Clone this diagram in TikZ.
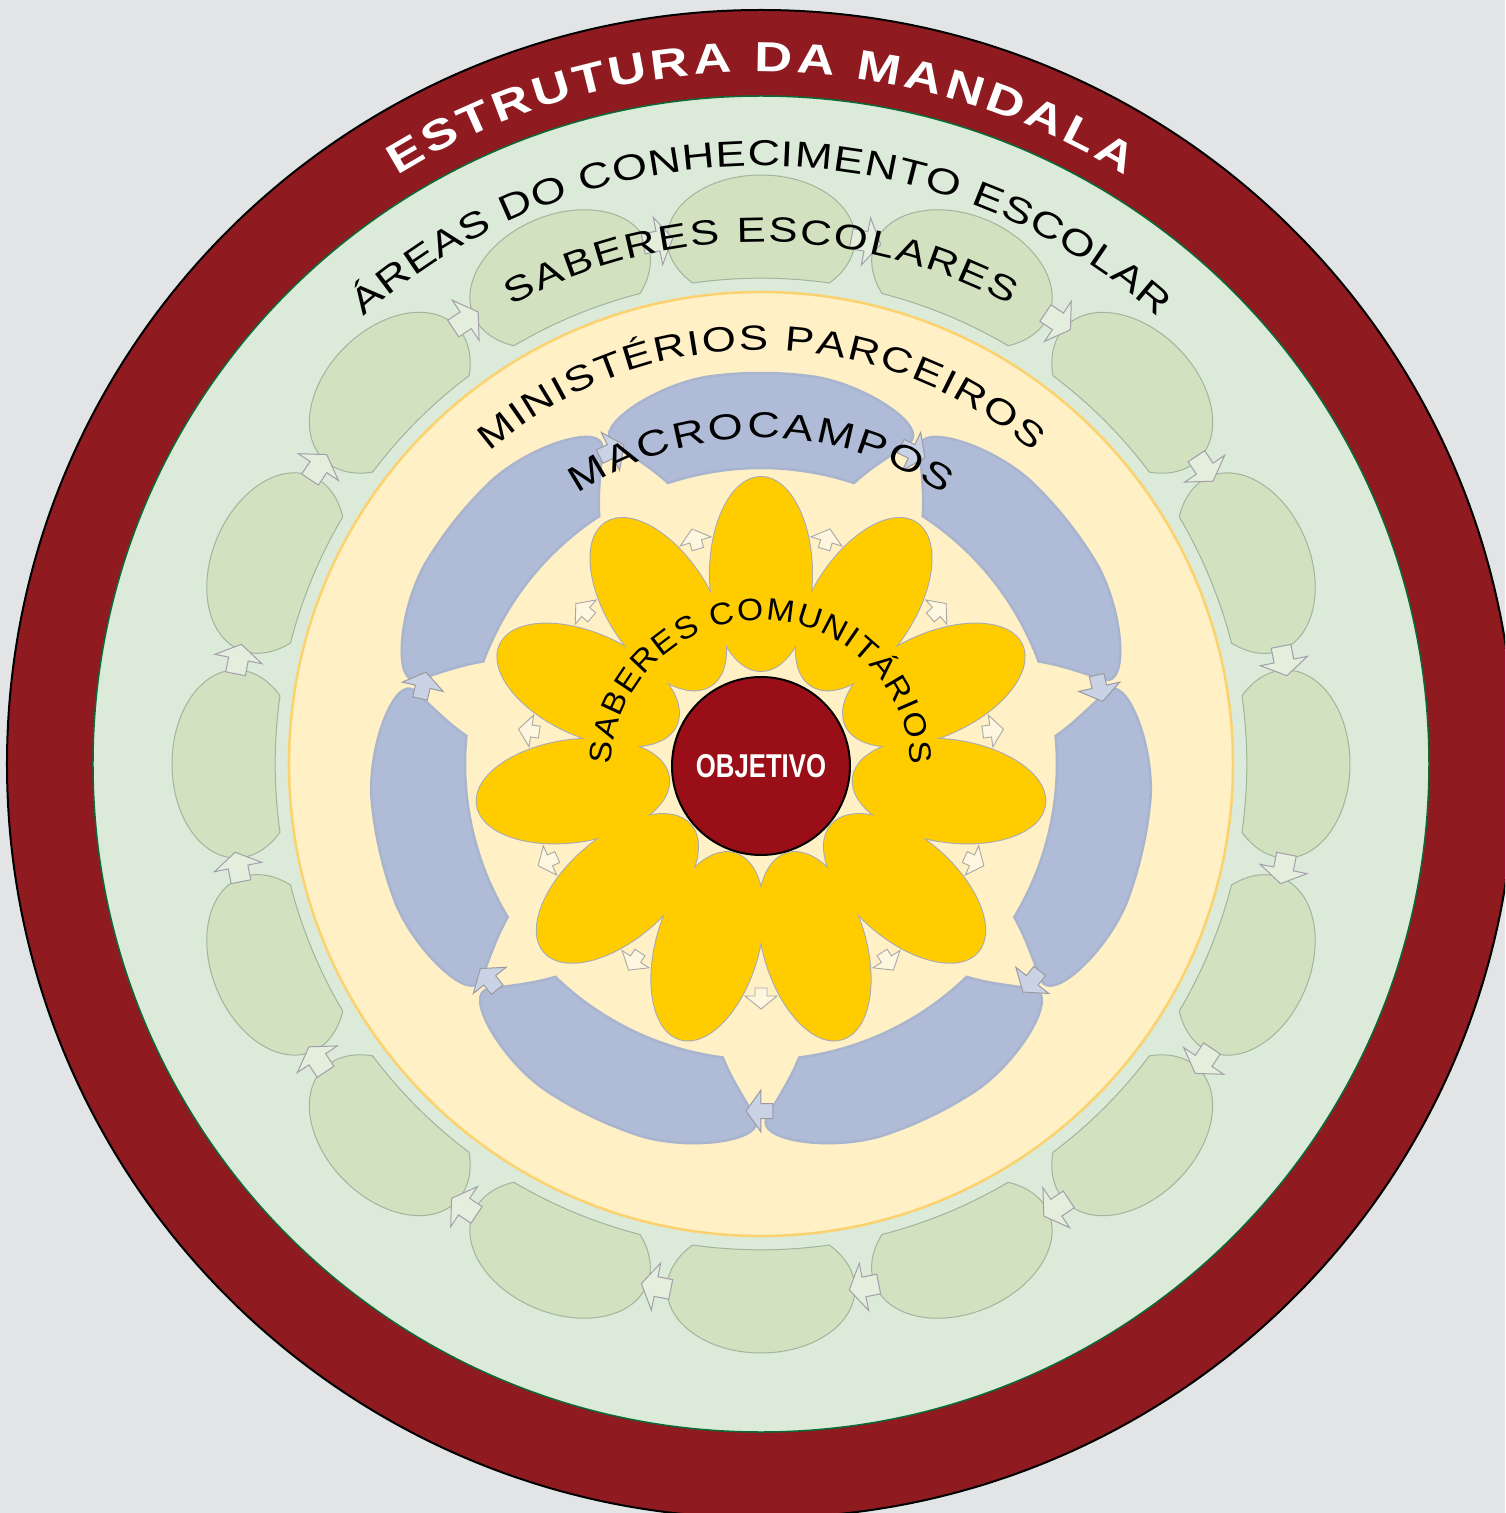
\documentclass[tikz,border=0pt]{standalone}
\usepackage{fontspec}
\setmainfont{Liberation Sans}
\newfontfamily\wsans[FakeStretch=1.25]{Liberation Sans}
\newfontfamily\msans[FakeStretch=1.08]{Liberation Sans}
\newfontfamily\csans[FakeStretch=0.78]{Liberation Sans}
\usetikzlibrary{decorations.text}
\definecolor{bgc}{HTML}{E3E4E6}
\definecolor{ringR}{HTML}{8F1B21}
\definecolor{discG}{HTML}{DCEAD9}
\definecolor{discGline}{HTML}{0B6A35}
\definecolor{segG}{HTML}{D2E2C0}
\definecolor{segGline}{HTML}{A0B59C}
\definecolor{arrG}{HTML}{E3EEDC}
\definecolor{arrGline}{HTML}{A39FAA}
\definecolor{discY}{HTML}{FFF0C5}
\definecolor{discYline}{HTML}{FCD26E}
\definecolor{segB}{HTML}{B0BCD7}
\definecolor{segBline}{HTML}{A9B4CE}
\definecolor{arrB}{HTML}{CAD2E5}
\definecolor{arrBline}{HTML}{9A9AA2}
\definecolor{petal}{HTML}{FFCC00}
\definecolor{petLine}{HTML}{A7AAB4}
\definecolor{arrP}{HTML}{FFF6DF}
\definecolor{arrPline}{HTML}{A8A8A8}
\definecolor{ctrR}{HTML}{9A0E18}
\tikzset{
  greenseg/.style={fill=segG, draw=segGline, line width=1pt},
  greenarr/.style={fill=arrG, draw=arrGline, line width=1pt, line join=miter},
  blueseg/.style={fill=segB, draw=segBline, line width=2.5pt},
  bluearr/.style={fill=arrB, draw=arrBline, line width=1pt, line join=miter},
  petalarr/.style={fill=arrP, draw=arrPline, line width=0.9pt, line join=miter},
}
\begin{document}
\begin{tikzpicture}[x=1pt,y=1pt]
\useasboundingbox (-761,-749) rectangle (744,764);
\clip (-761,-749) rectangle (744,764);
\fill[bgc] (-761,-749) rectangle (744,764);
% outer rings
\draw[fill=ringR, draw=black, line width=2pt] (0,0) circle[radius=754pt];
\draw[fill=discG, draw=discGline, line width=1.5pt] (0,0) circle[radius=668pt];
% green segments
\foreach \k in {0,...,15}{
  \pgfmathsetmacro\ang{90+22.5*\k}
  \begin{scope}[rotate=\ang]
    \draw[greenseg] (481,-68.3) arc[start angle=-133.43, end angle=133.43, x radius=64pt, y radius=94pt]
      arc[start angle=8.08, end angle=-8.08, radius=485.8pt] -- cycle;
  \end{scope}
}
% green arrows (clockwise)
\foreach \k in {0,...,15}{
  \pgfmathsetmacro\ang{90+22.5*\k+11.25}
  \begin{scope}[shift={(\ang:533)}, rotate=\ang-90]
    \draw[greenarr] (-14,-10) -- (1,-10) -- (1,-24) -- (16,0) -- (1,24) -- (1,10) -- (-14,10) -- cycle;
  \end{scope}
}
% yellow disc
\draw[fill=discY, draw=discYline, line width=2.5pt] (0,0) circle[radius=472pt];
% blue segments
\foreach \k in {0,...,6}{
  \pgfmathsetmacro\ang{90-51.4286*\k}
  \begin{scope}[rotate=\ang]
    \draw[blueseg] (-18.3:296) arc[start angle=-18.3, end angle=18.3, radius=296pt]
      .. controls (20.5:318) and (23:336) .. (24.8:354)
      .. controls (26.5:376) and (16:393) .. (8:391)
      arc[start angle=8, end angle=-8, radius=391pt]
      .. controls (-16:393) and (-26.5:376) .. (-24.8:354)
      .. controls (-23:336) and (-20.5:318) .. (-18.3:296) -- cycle;
  \end{scope}
}
% blue arrows
\foreach \k in {0,...,6}{
  \pgfmathsetmacro\ang{90-51.4286*(\k+0.5)}
  \begin{scope}[shift={(\ang:347)}, rotate=\ang-90]
    \draw[bluearr] (-12,-7.5) -- (0,-7.5) -- (0,-21) -- (15,0) -- (0,21) -- (0,7.5) -- (-12,7.5) -- cycle;
  \end{scope}
}
% petals: outlines first, fills on top (union look)
\foreach \k in {0,...,10}{
  \pgfmathsetmacro\ang{90-32.7273*\k}
  \draw[draw=petLine, line width=2pt, shift={(\ang:190)}, rotate=\ang] (0,0) ellipse[x radius=97pt, y radius=51pt];
}
\foreach \k in {0,...,10}{
  \pgfmathsetmacro\ang{90-32.7273*\k}
  \fill[petal, shift={(\ang:190)}, rotate=\ang] (0,0) ellipse[x radius=97pt, y radius=51pt];
}
% petal arrows
\foreach \k in {0,...,10}{
  \pgfmathsetmacro\ang{90-32.7273*(\k+0.5)}
  \begin{scope}[shift={(\ang:232)}, rotate=\ang]
    \draw[petalarr] (-8,-6) -- (0,-6) -- (0,-16) -- (13,0) -- (0,16) -- (0,6) -- (-8,6) -- cycle;
  \end{scope}
}
% center
\node[circle, fill=ctrR, draw=black, line width=2pt, minimum size=178pt, inner sep=0pt,
      text=white, font=\csans\bfseries\fontsize{33}{33}\selectfont] (obj) at (0,-2) {OBJETIVO};
% texts along arcs
\path[decorate, decoration={text along path, text align=fit to path, text color=white,
   text={|\wsans\bfseries\fontsize{42}{42}\selectfont|ESTRUTURA DA MANDALA}}]
   (121.7:692) arc[start angle=121.7, end angle=58.3, radius=692pt];
\path[decorate, decoration={text along path, text align=fit to path,
   text={|\wsans\fontsize{36}{36}\selectfont|ÁREAS DO CONHECIMENTO ESCOLAR}}]
   (131.6:598) arc[start angle=131.6, end angle=48.4, radius=598pt];
\path[decorate, decoration={text along path, text align=fit to path,
   text={|\wsans\fontsize{35}{35}\selectfont|SABERES ESCOLARES}}]
   (118.5:522) arc[start angle=118.5, end angle=61.5, radius=522pt];
\path[decorate, decoration={text along path, text align=fit to path,
   text={|\wsans\fontsize{35}{35}\selectfont|MINISTÉRIOS PARCEIROS}}]
   (131:414) arc[start angle=131, end angle=49, radius=414pt];
\path[decorate, decoration={text along path, text align=fit to path,
   text={|\wsans\fontsize{36}{36}\selectfont|MACROCAMPOS}}]
   (124.2:326) arc[start angle=124.2, end angle=55.8, radius=326pt];
\begin{scope}[shift={(0,-6)}]
\path[decorate, decoration={text along path, text align=fit to path,
   text={|\msans\fontsize{31}{31}\selectfont|SABERES COMUNITÁRIOS}}]
   (178:150) arc[start angle=178, end angle=2, radius=150pt];
\end{scope}
\end{tikzpicture}
\end{document}
